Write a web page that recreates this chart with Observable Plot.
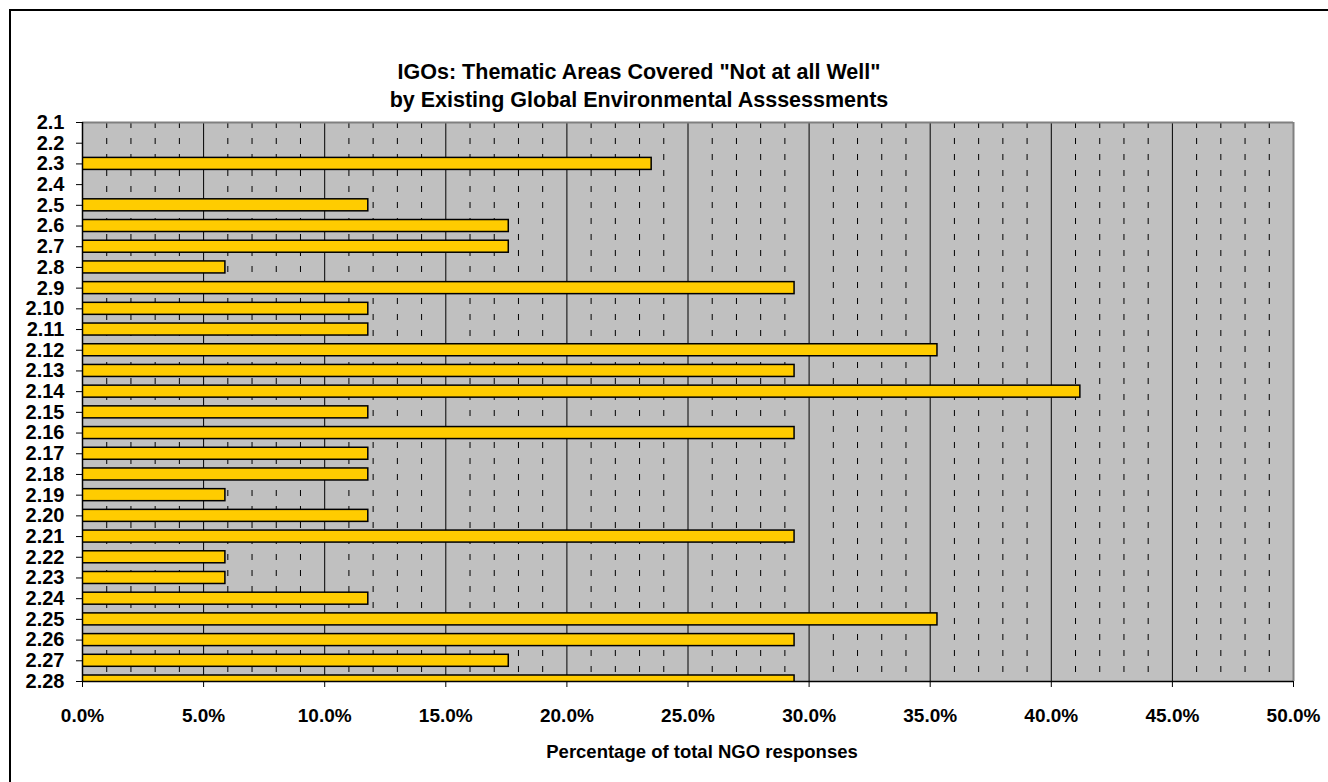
<!DOCTYPE html>
<html>
<head>
<meta charset="utf-8">
<script src="https://cdn.jsdelivr.net/npm/d3@7"></script>
<script src="https://cdn.jsdelivr.net/npm/@observablehq/plot@0.6"></script>
<style>
  body { margin: 0; background: #fff; font-family: "Liberation Sans", Arial, sans-serif; }
  #wrap { position: relative; width: 1328px; height: 782px; overflow: hidden; background: #fff; }
  #frame { position: absolute; left: 9px; top: 9px; width: 1400px; height: 900px; border-left: 2px solid #000; border-top: 2px solid #000; }
  #chart { position: absolute; left: 0; top: 0; }
  #title { position: absolute; left: 0; width: 1328px; top: 58px; text-align: center; font-weight: bold; font-size: 21.5px; line-height: 28px; color: #000; }
  #title div { position: relative; left: -25px; }
</style>
</head>
<body>
<div id="wrap">
  <div id="frame"></div>
  <div id="chart"></div>
  <div id="title"><div>IGOs: Thematic Areas Covered "Not at all Well"</div><div>by Existing Global Environmental Asssessments</div></div>
</div>
<script>
const categories = ["2.1","2.2","2.3","2.4","2.5","2.6","2.7","2.8","2.9","2.10","2.11","2.12","2.13","2.14","2.15","2.16","2.17","2.18","2.19","2.20","2.21","2.22","2.23","2.24","2.25","2.26","2.27","2.28"];
const values = [0,0,23.5,0,11.8,17.6,17.6,5.9,29.4,11.8,11.8,35.3,29.4,41.2,11.8,29.4,11.8,11.8,5.9,11.8,29.4,5.9,5.9,11.8,35.3,29.4,17.6,29.4];
const xTicks = [0,5,10,15,20,25,30,35,40,45,50];
const xTickLabels = ["0.0%","5.0%","10.0%","15.0%","20.0%","25.0%","30.0%","35.0%","40.0%","45.0%","50.0%"];
const xLabel = "Percentage of total NGO responses";

const rows = categories.map((c, i) => ({cat: c, i, value: values[i]})).filter(d => d.value > 0);
const minorTicks = d3.range(1, 50).filter(v => v % 5 !== 0);
const yIdx = d3.range(categories.length);

const chart = Plot.plot({
  width: 1328,
  height: 782,
  marginLeft: 82,
  marginRight: 35,
  marginTop: 122,
  marginBottom: 101,
  style: {background: "transparent", fontFamily: "'Liberation Sans', Arial, sans-serif", fontWeight: "bold", fontSize: "19px", color: "#000", overflow: "visible"},
  x: {domain: [0, 50]},
  y: {domain: [0, categories.length - 1], reverse: true},
  marks: [
    Plot.frame({fill: "#C0C0C0", stroke: null}),
    Plot.ruleX(minorTicks, {stroke: "#000", strokeWidth: 1, strokeDasharray: "6,10"}),
    Plot.ruleX(xTicks.slice(1, -1), {stroke: "#000", strokeWidth: 1}),
    Plot.ruleY([0], {stroke: "#808080", strokeWidth: 2}),
    Plot.ruleX([50], {stroke: "#808080", strokeWidth: 2}),
    Plot.rect(rows, {x1: 0, x2: "value", y1: d => d.i - 0.29, y2: d => d.i + 0.29, fill: "#FFCC00", stroke: "#000", strokeWidth: 1.5, clip: true}),
    Plot.ruleX([0], {stroke: "#000", strokeWidth: 1.5}),
    Plot.ruleY([categories.length - 1], {stroke: "#000", strokeWidth: 1.5}),
    Plot.axisX({ticks: xTicks, tickFormat: d => xTickLabels[xTicks.indexOf(d)], tickSize: 6, tickPadding: 21, fontSize: 19, fontWeight: "bold", label: null}),
    Plot.text([xLabel], {frameAnchor: "bottom", text: d => d, dy: 76, dx: 14, fontSize: 18.5, fontWeight: "bold", fill: "#000"}),
    Plot.axisY({ticks: yIdx, tickFormat: i => categories[i], tickSize: 6, tickPadding: 12, fontSize: 20, fontWeight: "bold", label: null})
  ]
});
document.getElementById("chart").appendChild(chart);
</script>
</body>
</html>
